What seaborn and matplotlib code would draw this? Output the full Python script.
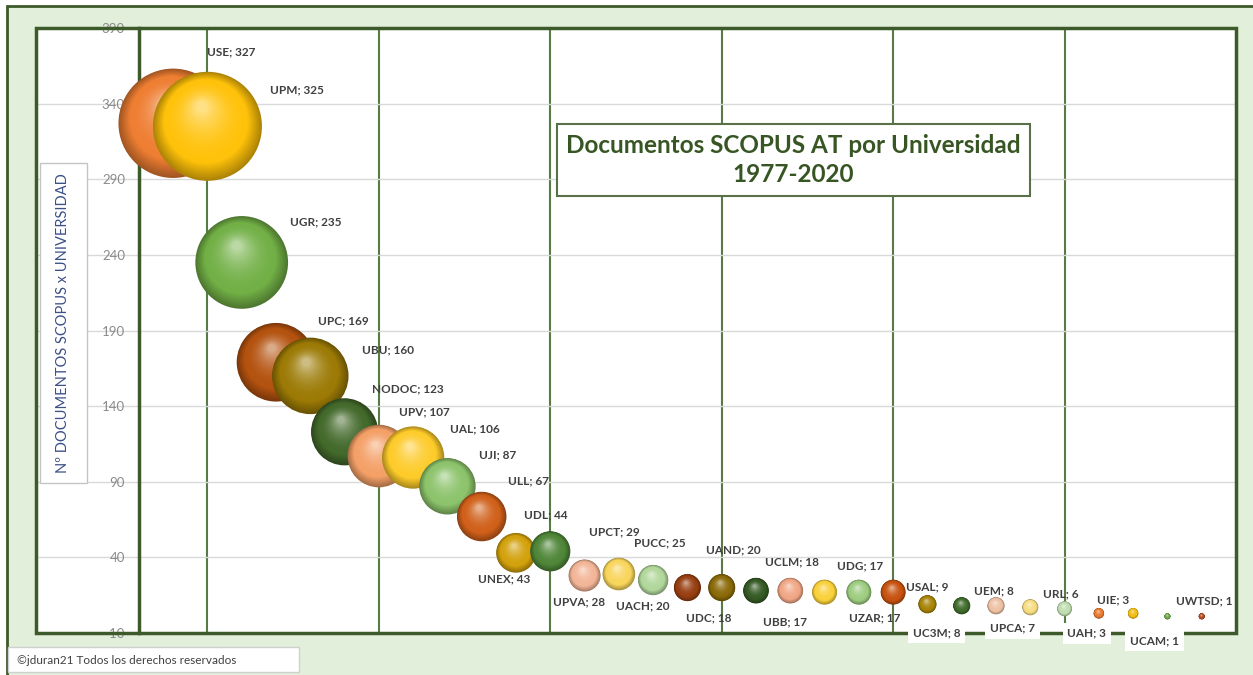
import numpy as np
import pandas as pd
import matplotlib
matplotlib.use("Agg")
import matplotlib.pyplot as plt
from matplotlib.patches import Rectangle
from matplotlib.colors import to_rgb
import seaborn as sns

# data
universities = ["USE", "UPM", "UGR", "UPC", "UBU", "NODOC", "UPV", "UAL", "UJI", "ULL",
                "UNEX", "UDL", "UPVA", "UPCT", "PUCC", "UACH", "UAND", "UDC", "UCLM", "UBB",
                "UDG", "UZAR", "USAL", "UC3M", "UEM", "UPCA", "URL", "UAH", "UIE", "UCAM", "UWTSD"]
documents = [327, 325, 235, 169, 160, 123, 107, 106, 87, 67,
             43, 44, 28, 29, 25, 20, 20, 18, 18, 17,
             17, 17, 9, 8, 8, 7, 6, 3, 3, 1, 1]
bubble_colors = ["#EE7E32", "#FFC20A", "#72B046", "#B4520F", "#9C7A05", "#43692B", "#F4A067",
                 "#FDCB2A", "#8CC36B", "#D0601A", "#D2A10B", "#4F8638", "#F3B597", "#F8D55B",
                 "#B1D79B", "#983F12", "#8A6A08", "#355A24", "#F1A786", "#F9D13A", "#9DCD80",
                 "#C8520F", "#A88405", "#3F6B2B", "#EEC2A4", "#F7DD80", "#BFDDAE", "#E8782D",
                 "#F2BD10", "#68A546", "#B5461A"]

# label placement: pixel offsets from bubble centre (image y grows downward)
label_offsets = [(58, -71), (90, -36), (74, -41), (67, -41), (78, -26), (63, -43), (46, -44),
                 (62, -29), (50, -31), (47, -36), (-12, 26), (-4, -36), (-6, 26), (-4, -42),
                 (7, -37), (-45, 18), (12, -38), (-47, 27), (2, -29), (-40, 30), (1, -26),
                 (-18, 26), (0, -17), (-25, 27), (-2, -15), (-18, 21), (-4, -15), (-12, 20),
                 (-20, -13), (-13, 24), (3, -16)]
boxed_labels = ["UC3M", "UPCA", "UAH", "UCAM"]

W, H = 1253, 675
DARK = "#3c5a2a"

sns.set_theme(style="white")
plt.rcParams["font.family"] = ["Lato", "DejaVu Sans"]

fig = plt.figure(figsize=(W / 100, H / 100), dpi=100, facecolor="white")
fig.patches.append(Rectangle((7 / W, -0.2), 1.2, 1.2 - 6 / H, transform=fig.transFigure,
                             fc="#e2efda", ec=DARK, lw=2, zorder=-5))

ax = fig.add_axes([36 / W, 42 / H, 1200 / W, 605 / H])
ax.set_facecolor("white")
ax.set_xlim(-3, 32)
ax.set_ylim(-10, 390)

x = np.arange(1, len(documents) + 1)
y = np.array(documents, dtype=float)
sizes = y * 18.96
radius_px = np.sqrt(sizes) / 2 * 100 / 72
px_x = 1200 / 35
px_y = 605 / 400


def shade(c, t):
    # dark rim -> base colour -> soft highlight
    c = np.array(to_rgb(c))
    if t < 0.25:
        return tuple(c * (0.68 + 0.32 * t / 0.25))
    k = (t - 0.25) / 0.75
    return tuple(c + (1 - c) * 0.5 * k ** 2)


steps = np.linspace(0, 1, 40)
rf = 1 - 0.9 * steps
for i in range(len(documents)):
    r = radius_px[i]
    layer = pd.DataFrame({
        "x": x[i] - (1 - rf) * r * 0.12 / px_x,
        "y": y[i] + (1 - rf) * r * 0.4 / px_y,
        "layer": [f"l{k}" for k in range(len(steps))],
    })
    pal = [shade(bubble_colors[i], t) for t in steps]
    sns.scatterplot(data=layer, x="x", y="y", hue="layer", palette=pal, s=sizes[i] * rf ** 2,
                    linewidth=0, legend=False, ax=ax, zorder=5 + i * 0.01)

for i, name in enumerate(universities):
    dx, dy = label_offsets[i]
    box = dict(boxstyle="square,pad=0.4", fc="white", ec="none") if name in boxed_labels else None
    ax.annotate(f"{name}; {documents[i]}", xy=(x[i], y[i]), xytext=(dx, -dy),
                textcoords="offset pixels", ha="center", va="center", fontsize=8.5,
                fontweight="bold", color="#404040", zorder=10, annotation_clip=False, bbox=box)

# axes styling
ax.set_xticks([2, 7, 12, 17, 22, 27])
ax.set_yticks(range(-10, 391, 50))
ax.set_yticklabels([str(v) for v in range(-10, 391, 50)])
ax.grid(axis="x", color="#587a45", lw=1.5)
ax.grid(axis="y", color="#d9d9d9", lw=1)
ax.set_axisbelow(True)
ax.tick_params(axis="x", length=0, labelbottom=False)
ax.tick_params(axis="y", length=0, pad=10, labelsize=9.5, labelcolor="#8a8a8a")
ax.set_xlabel("")
ax.set_ylabel("")
for side in ["top", "right", "bottom"]:
    ax.spines[side].set_visible(False)
ax.spines["left"].set_position(("data", 0))
ax.spines["left"].set_color(DARK)
ax.spines["left"].set_linewidth(2.5)
ax.add_patch(Rectangle((0, 0), 1, 1, transform=ax.transAxes, fill=False, ec=DARK, lw=2.5,
                       clip_on=False, zorder=4))

# y-axis title box
fig.patches.append(Rectangle((40 / W, 1 - 483 / H), 47 / W, 320 / H, transform=fig.transFigure,
                             fc="white", ec="#c4c4c4", lw=1, zorder=1))
fig.text(63.5 / W, 1 - 323 / H, "Nº DOCUMENTOS SCOPUS x UNIVERSIDAD", rotation=90,
         ha="center", va="center", fontsize=10.5, color="#3b5088", zorder=3)

# title box
fig.patches.append(Rectangle((557 / W, 1 - 196 / H), 473 / W, 72 / H, transform=fig.transFigure,
                             fc="white", ec="#5a7046", lw=1.5, zorder=1))
fig.text(793 / W, 1 - 160 / H, "Documentos SCOPUS AT por Universidad\n1977-2020",
         ha="center", va="center", fontsize=17.5, fontweight="bold", color="#375623",
         linespacing=1.3, zorder=3)

# copyright box
fig.patches.append(Rectangle((8 / W, 1 - 672 / H), 291 / W, 25 / H, transform=fig.transFigure,
                             fc="white", ec="#d0d0d0", lw=1, zorder=1))
fig.text(17 / W, 1 - 660 / H, "©jduran21 Todos los derechos reservados", ha="left", va="center",
         fontsize=8.5, color="#404040", zorder=3)

fig.savefig("out.png", dpi=100)
plt.close(fig)
